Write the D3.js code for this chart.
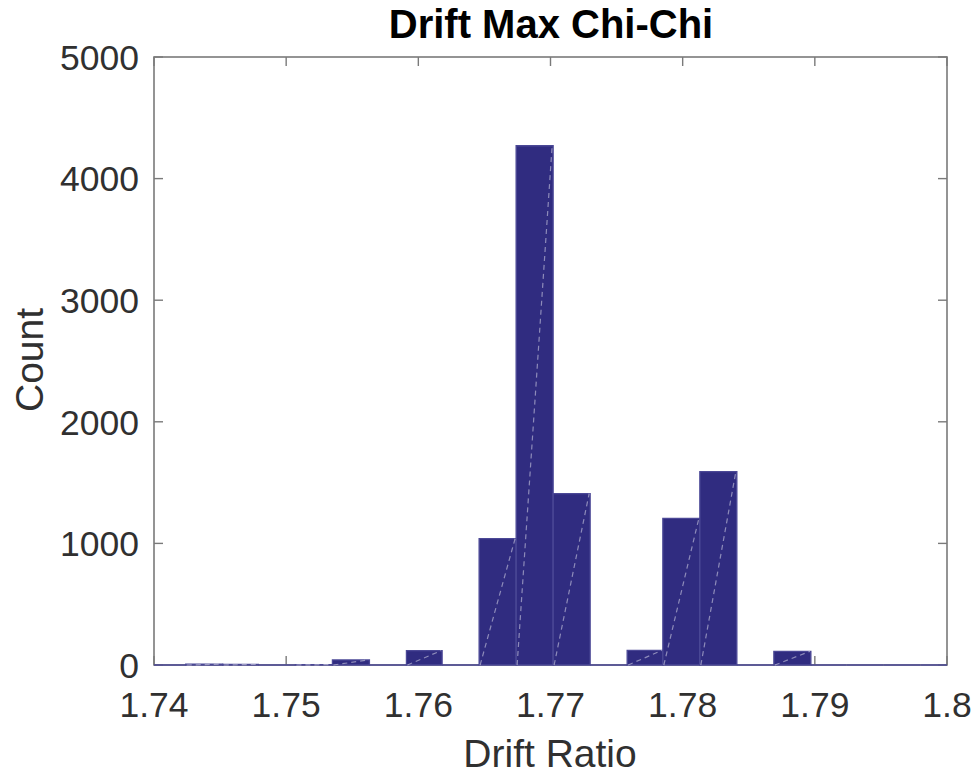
<!DOCTYPE html>
<html>
<head>
<meta charset="utf-8">
<script src="https://cdn.jsdelivr.net/npm/d3@7"></script>
<style>
  body { margin: 0; background: #fff; }
  svg { display: block; font-family: "Liberation Sans", Arial, sans-serif; }
</style>
</head>
<body>
<div class="graph"></div>
<script>
// histogram bin edges (drift ratio) and counts per bin
var binEdges = [1.7396, 1.7424, 1.7452, 1.7479, 1.7507, 1.7535, 1.7563, 1.7591,
	1.7618, 1.7646, 1.7674, 1.7702, 1.7730, 1.7758, 1.7785, 1.7813, 1.7841,
	1.7869, 1.7897, 1.7924, 1.7952, 1.7980, 1.8008];
var counts = [0, 7, 5, 0, 3, 42, 0, 118, 0, 1040, 4270, 1410, 0, 120, 1205, 1590,
	0, 112, 0, 0, 0, 0];

var xTicks = [1.74, 1.75, 1.76, 1.77, 1.78, 1.79, 1.8];
var yTicks = [0, 1000, 2000, 3000, 4000, 5000];

var titleText = "Drift Max Chi-Chi";
var xLabel = "Drift Ratio";
var yLabel = "Count";

window.onload = function(){
	const WIDTH = 975;
	const HEIGHT = 776;
	const LEFT = 154, RIGHT = 947, TOP = 57, BOTTOM = 665;
	const TICKLEN = 9;
	const AXISCOLOR = "#7a7a7a";
	const TEXTCOLOR = "#303030";

	var bins = counts.map(function(c, i){
		return {x0: binEdges[i], x1: binEdges[i + 1], count: c};
	});

	var xScale = d3.scaleLinear().domain([1.74, 1.8]).range([LEFT, RIGHT]);
	var yScale = d3.scaleLinear().domain([0, 5000]).range([BOTTOM, TOP]);

	var svg = d3.select(".graph").append("svg")
		.attr("width", WIDTH)
		.attr("height", HEIGHT);

	svg.append("clipPath").attr("id", "plotclip")
		.append("rect")
		.attr("x", LEFT).attr("y", TOP - 2)
		.attr("width", RIGHT - LEFT).attr("height", BOTTOM - TOP + 4);

	// box
	svg.append("rect")
		.attr("x", LEFT).attr("y", TOP)
		.attr("width", RIGHT - LEFT).attr("height", BOTTOM - TOP)
		.attr("fill", "none")
		.attr("stroke", AXISCOLOR)
		.attr("stroke-width", 1.6);

	// inward ticks on all four sides
	var ticks = svg.append("g").attr("stroke", AXISCOLOR).attr("stroke-width", 1.4);
	xTicks.forEach(function(t){
		var x = xScale(t);
		ticks.append("line").attr("x1", x).attr("x2", x).attr("y1", BOTTOM).attr("y2", BOTTOM - TICKLEN);
		ticks.append("line").attr("x1", x).attr("x2", x).attr("y1", TOP).attr("y2", TOP + TICKLEN);
	});
	yTicks.forEach(function(t){
		var y = yScale(t);
		ticks.append("line").attr("x1", LEFT).attr("x2", LEFT + TICKLEN).attr("y1", y).attr("y2", y);
		ticks.append("line").attr("x1", RIGHT).attr("x2", RIGHT - TICKLEN).attr("y1", y).attr("y2", y);
	});

	// bars
	var g = svg.append("g").attr("clip-path", "url(#plotclip)");
	g.selectAll(".bar").data(bins).enter().append("path")
		.attr("class", "bar")
		.attr("d", function(d){
			var p = d3.path();
			p.moveTo(xScale(d.x0), yScale(0));
			p.lineTo(xScale(d.x0), yScale(d.count));
			p.lineTo(xScale(d.x1), yScale(d.count));
			p.lineTo(xScale(d.x1), yScale(0));
			p.closePath();
			return p.toString();
		})
		.attr("fill", "#302c80")
		.attr("stroke", "#4b4896")
		.attr("stroke-width", 1.3);

	// faint diagonal seams inside filled bars
	g.selectAll(".seam").data(bins.filter(function(d){ return d.count > 0; })).enter().append("line")
		.attr("class", "seam")
		.attr("x1", function(d){ return xScale(d.x0) + 1; })
		.attr("y1", yScale(0))
		.attr("x2", function(d){ return xScale(d.x1) - 1; })
		.attr("y2", function(d){ return yScale(d.count); })
		.attr("stroke", "rgba(255,255,255,0.45)")
		.attr("stroke-width", 1.2)
		.attr("stroke-dasharray", "5,4");

	// tick labels
	svg.append("g").selectAll("text").data(xTicks).enter().append("text")
		.attr("x", function(d){ return xScale(d); })
		.attr("y", 717)
		.attr("text-anchor", "middle")
		.attr("font-size", 35.5)
		.attr("fill", TEXTCOLOR)
		.text(function(d){ return d3.format("")(d); });

	svg.append("g").selectAll("text").data(yTicks).enter().append("text")
		.attr("x", 139)
		.attr("y", function(d){ return yScale(d); })
		.attr("dy", "0.36em")
		.attr("text-anchor", "end")
		.attr("font-size", 35.5)
		.attr("fill", TEXTCOLOR)
		.text(function(d){ return d; });

	// labels
	svg.append("text")
		.attr("x", 550).attr("y", 767)
		.attr("text-anchor", "middle")
		.attr("font-size", 39)
		.attr("fill", TEXTCOLOR)
		.text(xLabel);

	svg.append("text")
		.attr("transform", "translate(43,360) rotate(-90)")
		.attr("text-anchor", "middle")
		.attr("font-size", 39)
		.attr("fill", TEXTCOLOR)
		.text(yLabel);

	svg.append("text")
		.attr("x", 551).attr("y", 38)
		.attr("text-anchor", "middle")
		.attr("font-size", 40)
		.attr("font-weight", "bold")
		.attr("fill", "#000")
		.text(titleText);
};
</script>
</body>
</html>
